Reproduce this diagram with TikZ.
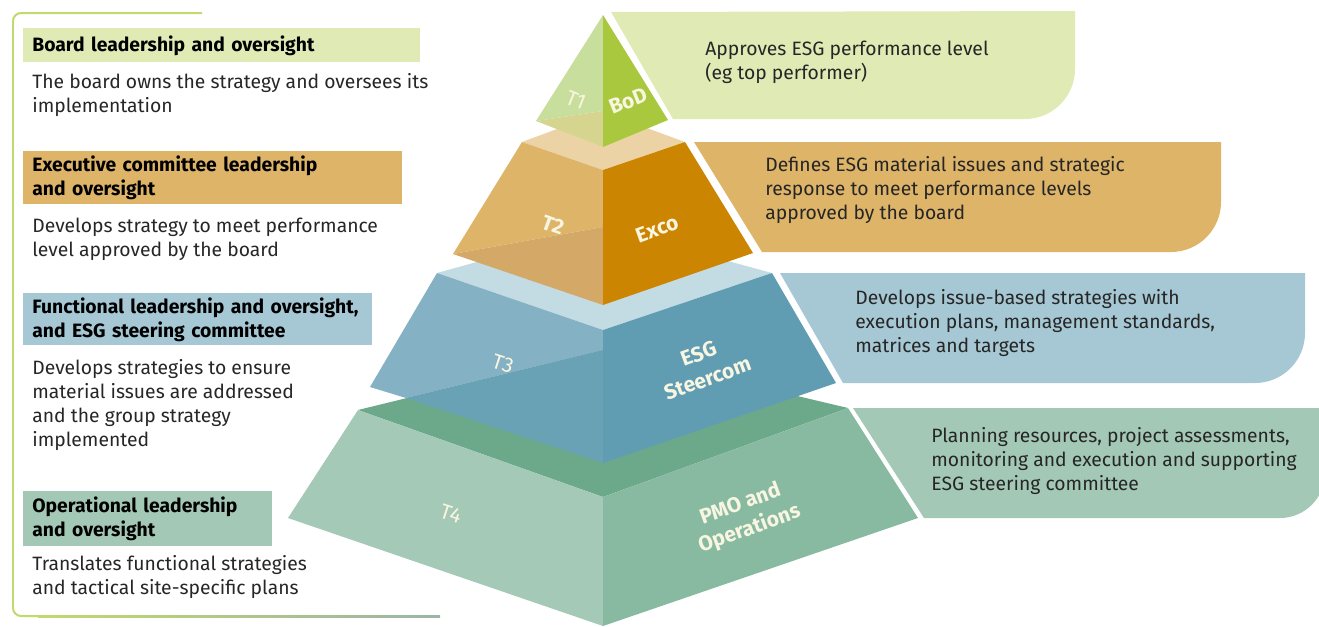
\documentclass[tikz,border=0pt]{standalone}
\usepackage{fontspec}
\setmainfont{Fira Sans}
\usetikzlibrary{positioning}

\definecolor{textgrey}{HTML}{262626}
\definecolor{tierwhite}{HTML}{F8F5E1}
\definecolor{bracketgreen}{HTML}{C2D96C}
\definecolor{bracketgrey}{HTML}{9BB5A6}
\definecolor{bodLeft}{HTML}{C8DE9C}
\definecolor{bodLeftLow}{HTML}{D6D590}
\definecolor{bodRight}{HTML}{A9C83E}
\definecolor{bodPale}{HTML}{E0EAB5}
\definecolor{excoTop}{HTML}{ECD3A6}
\definecolor{excoLeft}{HTML}{DEB469}
\definecolor{excoLeftLow}{HTML}{D4A967}
\definecolor{excoRight}{HTML}{CC8500}
\definecolor{excoPale}{HTML}{DDB468}
\definecolor{esgTop}{HTML}{C3DBE3}
\definecolor{esgLeft}{HTML}{84B1C3}
\definecolor{esgLeftLow}{HTML}{6AA2B5}
\definecolor{esgRight}{HTML}{609DB3}
\definecolor{esgPale}{HTML}{A6C8D5}
\definecolor{pmoTop}{HTML}{6CA88A}
\definecolor{pmoLeft}{HTML}{A4C9B7}
\definecolor{pmoRight}{HTML}{88BAA2}
\definecolor{pmoPale}{HTML}{A3C9B6}

\begin{document}
\begin{tikzpicture}[
        x=0.02cm, y=-0.02cm,
        every node/.style={font=\fontsize{11}{13.66}\selectfont, text=textgrey},
        headbox/.style={fill=#1, anchor=north west, align=left, inner xsep=0.18cm, inner ysep=0pt,
          font=\fontsize{11}{13.66}\selectfont\bfseries, text=black},
        desc/.style={anchor=west, align=left, inner xsep=0.18cm, inner ysep=0pt},
        callout/.style={anchor=west, align=left, inner sep=0pt},
        tier/.style={font=\fontsize{12}{15}\selectfont\bfseries, text=tierwhite, align=center, inner sep=0pt},
        tierthin/.style={font=\fontsize{12}{15}\selectfont, text=tierwhite, inner sep=0pt},
        ]
        \clip (0,0) rectangle (1319,626);

        % left bracket
        \draw[bracketgreen, line width=0.04cm, rounded corners=0.16cm] (202,13) -- (13,13) -- (13,616) -- (40,616);
        \shade[left color=bracketgreen, right color=bracketgrey] (38,615) rectangle (440,617);

        % left column
        \node[headbox=bodPale, text width=7.58cm, minimum height=0.68cm] (hBoard) at (23,28) {Board leadership and oversight};
        \node[desc] (dBoard) at (23,95) {The board owns the strategy and oversees its\\implementation};
        \node[headbox=excoPale, text width=7.22cm, minimum height=1.06cm] (hExco) at (23,151) {Executive committee leadership\\and oversight};
        \node[desc] (dExco) at (23,239) {Develops strategy to meet performance\\level approved by the board};
        \node[headbox=esgPale, text width=6.62cm, minimum height=1.04cm] (hEsg) at (23,293) {Functional leadership and oversight,\\and ESG steering committee};
        \node[desc] (dEsg) at (23,405) {Develops strategies to ensure\\material issues are addressed\\and the group strategy\\implemented};
        \node[headbox=pmoPale, text width=4.62cm, minimum height=1.1cm] (hPmo) at (23,491) {Operational leadership\\and oversight};
        \node[desc] (dPmo) at (23,577) {Translates functional strategies\\and tactical site-specific plans};

        % right callouts
        \fill[bodPale] (611,12) -- (1075,11) -- (1075,69) .. controls (1075,96.6) and (1052.6,119) .. (1025,119) -- (673,119) -- cycle;
        \fill[excoPale] (694,142) -- (1221,142) -- (1221,202) .. controls (1221,229.6) and (1198.6,252) .. (1171,252) -- (762,252) -- cycle;
        \fill[esgPale] (780,273) -- (1305,273) -- (1305,333) .. controls (1305,360.6) and (1282.6,383) .. (1255,383) -- (843,383) -- cycle;
        \fill[pmoPale] (853,408) -- (1325,408) -- (1325,473) .. controls (1325,497.8) and (1304.8,518) .. (1280,518) -- (924,518) -- cycle;
        \node[callout] (cBoD) at (705,62) {Approves ESG performance level\\(eg top performer)};
        \node[callout] (cExco) at (765,190) {Defines ESG material issues and strategic\\response to meet performance levels\\approved by the board};
        \node[callout] (cEsg) at (855,323) {Develops issue-based strategies with\\execution plans, management standards,\\matrices and targets};
        \node[callout] (cPmo) at (931,461) {Planning resources, project assessments,\\monitoring and execution and supporting\\ESG steering committee};

        % tier 4
        \fill[pmoTop] (358,410) -- (603,350) -- (848,408) -- (603,497) -- cycle;
        \fill[pmoLeft] (358,410) -- (603,497) -- (603,626) -- (288,518) -- cycle;
        \fill[pmoRight] (603,497) -- (848,408) -- (918,518) -- (603,626) -- cycle;
        % tier 3
        \fill[esgTop] (437,273) -- (603,227) -- (772,273) -- (603,330) -- cycle;
        \fill[esgLeft] (437,273) -- (603,330) -- (603,350) -- (406,398) -- (370,387) -- cycle;
        \fill[esgLeftLow] (406,398) -- (603,350) -- (603,463) -- cycle;
        \fill[esgRight] (603,330) -- (772,273) -- (836,383) -- (603,463) -- cycle;
        % tier 2
        \fill[excoTop] (522,142) -- (603,112) -- (685,142) -- (603,170) -- cycle;
        \fill[excoLeft] (522,142) -- (603,170) -- (603,227) -- (453,254) -- cycle;
        \fill[excoLeftLow] (453,254) -- (603,227) -- (603,305) -- cycle;
        \fill[excoRight] (603,170) -- (685,142) -- (753,253) -- (603,305) -- cycle;
        % tier 1
        \fill[bodLeft] (603,15) -- (603,111) -- (536,121) -- cycle;
        \fill[bodLeftLow] (536,121) -- (603,111) -- (603,147) -- cycle;
        \fill[bodRight] (603,15) -- (603,147) -- (668,120) -- cycle;

        \node[tierthin, rotate=-22] (t1) at (576,100) {T1};
        \node[tier, rotate=22] (bod) at (628,101) {BoD};
        \node[tier, rotate=-20] (t2) at (553,225) {T2};
        \node[tier, rotate=20] (exco) at (657,229) {Exco};
        \node[tierthin, rotate=-18] (t3) at (503,364) {T3};
        \node[tier, rotate=20] (steercom) at (703,366) {ESG\\Steercom};
        \node[tierthin, rotate=-18] (t4) at (451,514) {T4};
        \node[tier, rotate=20] (operations) at (745,517) {PMO and\\Operations};
\end{tikzpicture}
\end{document}
